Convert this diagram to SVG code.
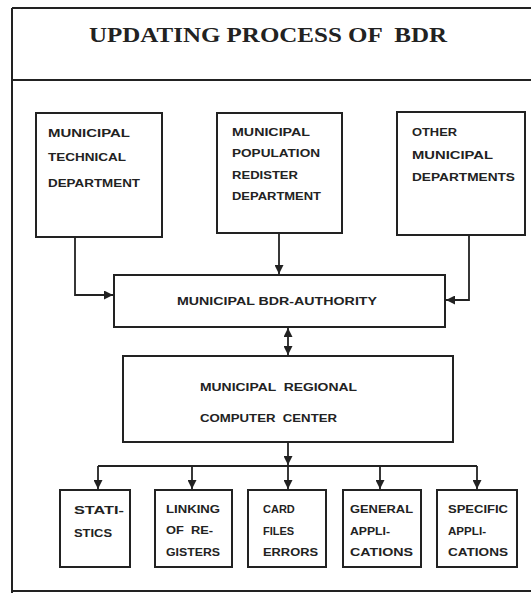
<svg xmlns="http://www.w3.org/2000/svg" width="531" height="593" viewBox="0 0 531 593">
<style>
.box{fill:none;stroke:#222;stroke-width:2}
.frame{fill:none;stroke:#222;stroke-width:2}
.t{font-family:"Liberation Sans",Arial,sans-serif;font-weight:bold;font-size:11px;fill:#222}
.title{font-family:"Liberation Serif","Times New Roman",serif;font-weight:bold;font-size:20px;fill:#222}
.c{fill:none;stroke:#222;stroke-width:1.8}
</style>
<defs>
<marker id="ah" viewBox="0 0 10 10" refX="10" refY="5" markerWidth="5" markerHeight="5" orient="auto-start-reverse" markerUnits="strokeWidth">
<path d="M0,0 L10,5 L0,10 z" fill="#222"/>
</marker>
</defs>
<rect width="531" height="593" fill="#fff"/>
<g id="frame">
<path class="frame" d="M12 8 H531 M12 80 H531 M12 591 H531 M12 8 V593"/>
<text class="title" x="89" y="42" textLength="358" lengthAdjust="spacingAndGlyphs" xml:space="preserve">UPDATING PROCESS OF  BDR</text>
</g>
<g id="n1">
<rect class="box" x="36" y="113" width="126" height="124"/>
<text class="t" x="48" y="137" textLength="82" lengthAdjust="spacingAndGlyphs">MUNICIPAL</text>
<text class="t" x="48" y="161" textLength="78" lengthAdjust="spacingAndGlyphs">TECHNICAL</text>
<text class="t" x="48" y="187" textLength="92" lengthAdjust="spacingAndGlyphs">DEPARTMENT</text>
</g>
<g id="n2">
<rect class="box" x="217" y="113" width="125" height="120"/>
<text class="t" x="232" y="136" textLength="78" lengthAdjust="spacingAndGlyphs">MUNICIPAL</text>
<text class="t" x="232" y="157" textLength="88" lengthAdjust="spacingAndGlyphs">POPULATION</text>
<text class="t" x="232" y="179" textLength="66" lengthAdjust="spacingAndGlyphs">REDISTER</text>
<text class="t" x="232" y="200" textLength="89" lengthAdjust="spacingAndGlyphs">DEPARTMENT</text>
</g>
<g id="n3">
<rect class="box" x="397" y="112" width="128" height="123"/>
<text class="t" x="412" y="136" textLength="45" lengthAdjust="spacingAndGlyphs">OTHER</text>
<text class="t" x="412" y="159" textLength="81" lengthAdjust="spacingAndGlyphs">MUNICIPAL</text>
<text class="t" x="412" y="181" textLength="103" lengthAdjust="spacingAndGlyphs">DEPARTMENTS</text>
</g>
<g id="bdr">
<rect class="box" x="114" y="275" width="331" height="52"/>
<text class="t" x="177" y="305" textLength="200" lengthAdjust="spacingAndGlyphs">MUNICIPAL BDR-AUTHORITY</text>
</g>
<g id="rcc">
<rect class="box" x="123" y="356" width="330" height="86"/>
<text class="t" x="200" y="391" textLength="157" lengthAdjust="spacingAndGlyphs" xml:space="preserve">MUNICIPAL  REGIONAL</text>
<text class="t" x="200" y="422" textLength="137" lengthAdjust="spacingAndGlyphs" xml:space="preserve">COMPUTER  CENTER</text>
</g>
<g id="b1">
<rect class="box" x="60" y="490" width="70" height="77"/>
<text class="t" x="74" y="514" textLength="50" lengthAdjust="spacingAndGlyphs">STATI-</text>
<text class="t" x="74" y="537" textLength="38" lengthAdjust="spacingAndGlyphs">STICS</text>
</g>
<g id="b2">
<rect class="box" x="155" y="490" width="77" height="77"/>
<text class="t" x="166" y="513" textLength="54" lengthAdjust="spacingAndGlyphs">LINKING</text>
<text class="t" x="166" y="534" textLength="47" lengthAdjust="spacingAndGlyphs" xml:space="preserve">OF  RE-</text>
<text class="t" x="166" y="556" textLength="54" lengthAdjust="spacingAndGlyphs">GISTERS</text>
</g>
<g id="b3">
<rect class="box" x="248" y="490" width="78" height="77"/>
<text class="t" x="263" y="513">CARD</text>
<text class="t" x="263" y="535">FILES</text>
<text class="t" x="263" y="556" textLength="55" lengthAdjust="spacingAndGlyphs">ERRORS</text>
</g>
<g id="b4">
<rect class="box" x="343" y="490" width="78" height="77"/>
<text class="t" x="350" y="513" textLength="63" lengthAdjust="spacingAndGlyphs">GENERAL</text>
<text class="t" x="350" y="535" textLength="40" lengthAdjust="spacingAndGlyphs">APPLI-</text>
<text class="t" x="350" y="556" textLength="63" lengthAdjust="spacingAndGlyphs">CATIONS</text>
</g>
<g id="b5">
<rect class="box" x="437" y="490" width="80" height="77"/>
<text class="t" x="448" y="513" textLength="60" lengthAdjust="spacingAndGlyphs">SPECIFIC</text>
<text class="t" x="448" y="535" textLength="38" lengthAdjust="spacingAndGlyphs">APPLI-</text>
<text class="t" x="448" y="556" textLength="60" lengthAdjust="spacingAndGlyphs">CATIONS</text>
</g>
<g id="connectors">
<path class="c" d="M75 237 V295 H113" marker-end="url(#ah)"/>
<path class="c" d="M279 233 V274" marker-end="url(#ah)"/>
<path class="c" d="M469 235 V300 H446" marker-end="url(#ah)"/>
<path class="c" d="M288 328 V355" marker-start="url(#ah)" marker-end="url(#ah)"/>
<path class="c" d="M288 442 V465" marker-end="url(#ah)"/>
<path class="c" d="M98 466 H477"/>
<path class="c" d="M98 466 V489" marker-end="url(#ah)"/>
<path class="c" d="M192 466 V489" marker-end="url(#ah)"/>
<path class="c" d="M288 466 V489" marker-end="url(#ah)"/>
<path class="c" d="M380 466 V489" marker-end="url(#ah)"/>
<path class="c" d="M477 466 V489" marker-end="url(#ah)"/>
</g>
</svg>
